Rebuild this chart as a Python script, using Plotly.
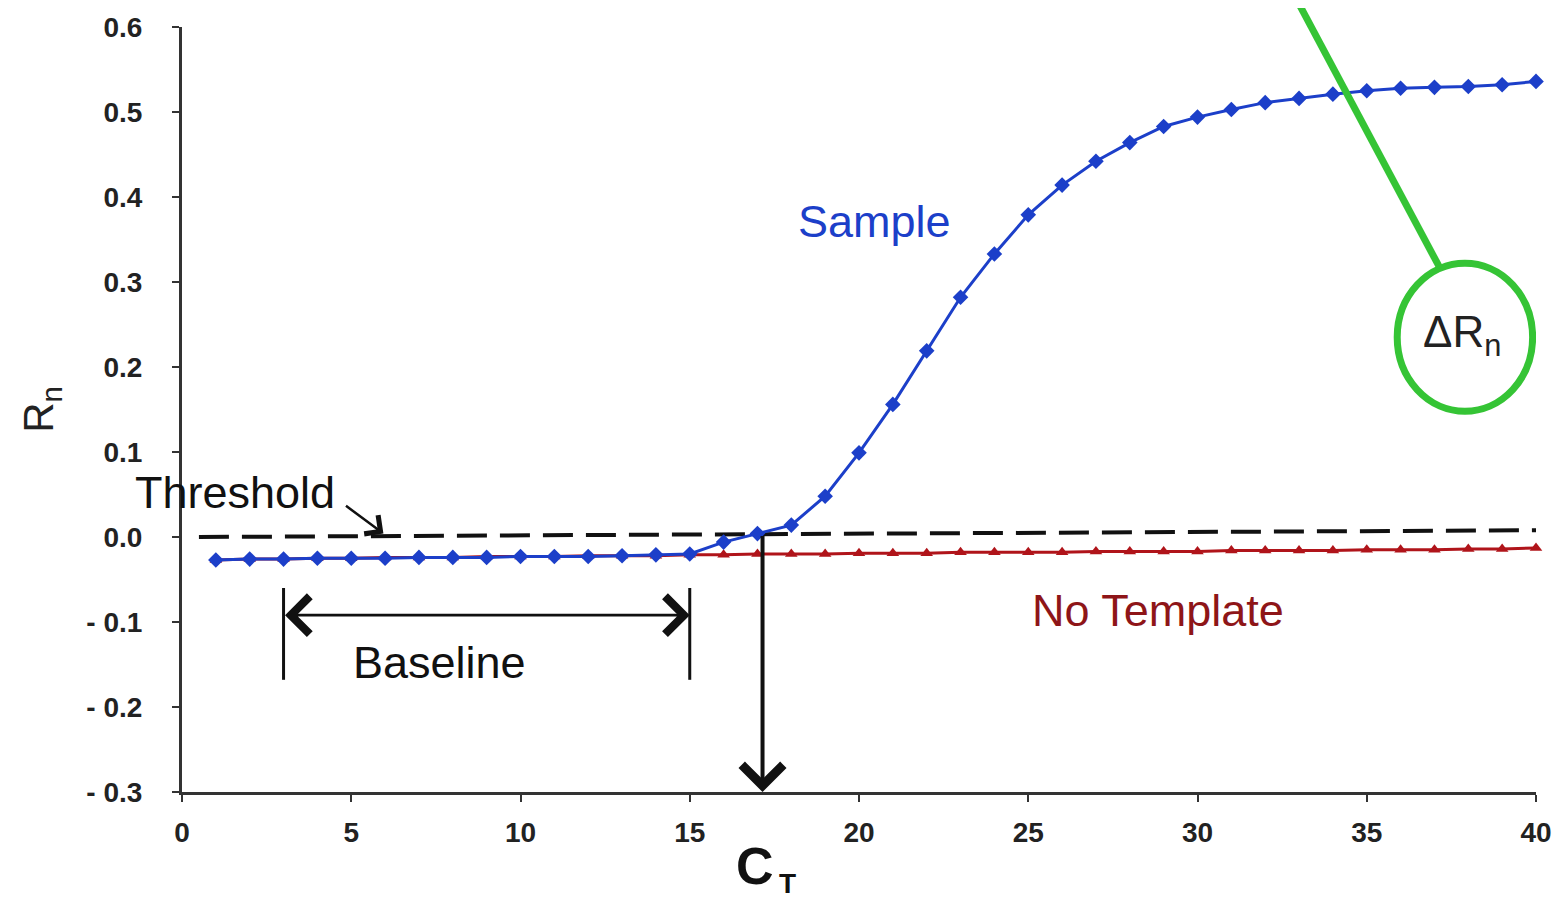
import plotly.graph_objects as go

# ---------------- data ----------------
cycles = list(range(1, 41))
sample = [-0.027, -0.026, -0.026, -0.025, -0.025, -0.025, -0.024, -0.024, -0.024, -0.023,
          -0.023, -0.023, -0.022, -0.021, -0.020, -0.006, 0.004, 0.014, 0.048, 0.099,
          0.156, 0.219, 0.282, 0.333, 0.379, 0.414, 0.442, 0.464, 0.483, 0.494,
          0.503, 0.511, 0.516, 0.521, 0.525, 0.528, 0.529, 0.530, 0.532, 0.536]
no_template = [-0.027, -0.026, -0.026, -0.025, -0.025, -0.024, -0.024, -0.024, -0.023, -0.023,
               -0.023, -0.022, -0.022, -0.022, -0.021, -0.021, -0.020, -0.020, -0.020, -0.019,
               -0.019, -0.019, -0.018, -0.018, -0.018, -0.018, -0.017, -0.017, -0.017, -0.017,
               -0.016, -0.016, -0.016, -0.016, -0.015, -0.015, -0.015, -0.014, -0.014, -0.013]
threshold_x = [0.5, 40.3]
threshold_y = [0.0, 0.008]

x_ticks = [0, 5, 10, 15, 20, 25, 30, 35, 40]
y_ticks = [-0.3, -0.2, -0.1, 0.0, 0.1, 0.2, 0.3, 0.4, 0.5, 0.6]
y_tick_text = ["- 0.3", "- 0.2", "- 0.1", "0.0", "0.1", "0.2", "0.3", "0.4", "0.5", "0.6"]

ct_value = 17.15
baseline_start, baseline_end = 3, 15

FONT = "Liberation Sans, Arial, Helvetica, sans-serif"
BLUE = "#1c3fc9"
RED = "#b0141a"
GREEN = "#35c435"
INK = "#111111"

fig = go.Figure()

fig.add_trace(go.Scatter(x=threshold_x, y=threshold_y, mode="lines",
                         line=dict(color=INK, width=4, dash="30px,13px"),
                         hoverinfo="skip", showlegend=False))
fig.add_trace(go.Scatter(x=cycles, y=no_template, mode="lines+markers",
                         line=dict(color=RED, width=3),
                         marker=dict(symbol="triangle-up", size=11, color=RED),
                         name="No Template", showlegend=False, cliponaxis=False))
fig.add_trace(go.Scatter(x=cycles, y=sample, mode="lines+markers",
                         line=dict(color=BLUE, width=3),
                         marker=dict(symbol="diamond", size=12, color=BLUE),
                         name="Sample", showlegend=False, cliponaxis=False))

ann = []
ann.append(dict(x=20.47, y=0.371, text="Sample", showarrow=False,
                font=dict(family=FONT, size=45, color=BLUE)))
ann.append(dict(x=28.83, y=-0.086, text="No Template", showarrow=False,
                font=dict(family=FONT, size=45, color="#8e1518")))
ann.append(dict(x=1.57, y=0.052, text="Threshold", showarrow=False,
                font=dict(family=FONT, size=45, color=INK)))
ann.append(dict(x=7.62, y=-0.148, text="Baseline", showarrow=False,
                font=dict(family=FONT, size=45, color=INK)))
ann.append(dict(x=37.8, y=0.238, text="ΔR<sub>n</sub>", showarrow=False,
                font=dict(family=FONT, size=44, color="#222222")))
# threshold arrow
ann.append(dict(x=5.95, y=0.004, ax=4.8, ay=0.038, xref="x", yref="y", axref="x", ayref="y",
                text="", showarrow=True, arrowhead=4, arrowsize=1.8, arrowwidth=2.5,
                arrowcolor=INK))
# baseline double arrow
ann.append(dict(x=baseline_end, y=-0.092, ax=baseline_start, ay=-0.092, xref="x", yref="y",
                axref="x", ayref="y", text="", showarrow=True, arrowhead=4, startarrowhead=4,
                arrowside="end+start", arrowsize=2.6, startarrowsize=2.6, arrowwidth=2.8,
                arrowcolor=INK))
# CT arrow
ann.append(dict(x=ct_value, y=-0.3, ax=ct_value, ay=0.003, xref="x", yref="y",
                axref="x", ayref="y", text="", showarrow=True, arrowhead=4, arrowsize=2.0,
                arrowwidth=4, arrowcolor=INK))
# Delta Rn double arrow
ann.append(dict(x=40.1, y=sample[-1] - 0.003, ax=40.1, ay=no_template[-1], xref="x", yref="y",
                axref="x", ayref="y", text="", showarrow=True, arrowhead=4, startarrowhead=4,
                arrowside="end+start", arrowsize=2.0, startarrowsize=2.0, arrowwidth=4,
                arrowcolor=INK))
# C_T label (C with subscript T)
ann.append(dict(x=16.93, y=-0.0967, xref="x", yref="paper", yanchor="middle", text="<b>C</b>",
                showarrow=False, font=dict(family=FONT, size=52, color=INK)))
ann.append(dict(x=17.9, y=-0.119, xref="x", yref="paper", yanchor="middle", text="<b>T</b>",
                showarrow=False, font=dict(family=FONT, size=28, color=INK)))

shapes = []
for bx in (baseline_start, baseline_end):
    shapes.append(dict(type="line", xref="x", yref="y", x0=bx, x1=bx, y0=-0.06, y1=-0.168,
                       line=dict(color=INK, width=3)))
shapes.append(dict(type="circle", xref="x", yref="y", x0=35.9, x1=39.9, y0=0.148, y1=0.322,
                   line=dict(color=GREEN, width=7)))
shapes.append(dict(type="line", xref="paper", yref="paper", x0=0.822, y0=1.04, x1=0.929, y1=0.685,
                   line=dict(color=GREEN, width=7)))

# page body has an 8px margin, so the figure is 8px smaller and margins shifted
fig.update_layout(
    width=1554, height=893,
    margin=dict(l=174, r=26, t=19, b=109),
    paper_bgcolor="white", plot_bgcolor="white",
    annotations=ann, shapes=shapes, showlegend=False,
    xaxis=dict(range=[0, 40], tickvals=x_ticks, ticktext=[str(v) for v in x_ticks],
               showgrid=False, zeroline=False, showline=True, linecolor="#333333", linewidth=3,
               ticks="outside", ticklen=7, tickwidth=2, tickcolor="#333333",
               ticklabelstandoff=6, automargin=False,
               tickfont=dict(family=FONT, size=28, weight="bold", color="#222222")),
    yaxis=dict(range=[-0.3, 0.6], tickvals=y_ticks, ticktext=y_tick_text,
               showgrid=False, zeroline=False, showline=True, linecolor="#333333", linewidth=3,
               ticks="outside", ticklen=7, tickwidth=2, tickcolor="#333333",
               ticklabelstandoff=24, automargin=False,
               tickfont=dict(family=FONT, size=28, weight="bold", color="#222222"),
               title=dict(text="R<sub>n</sub>", standoff=20,
                          font=dict(family=FONT, size=42, color="#222222"))),
)

fig.write_html("out.html")
